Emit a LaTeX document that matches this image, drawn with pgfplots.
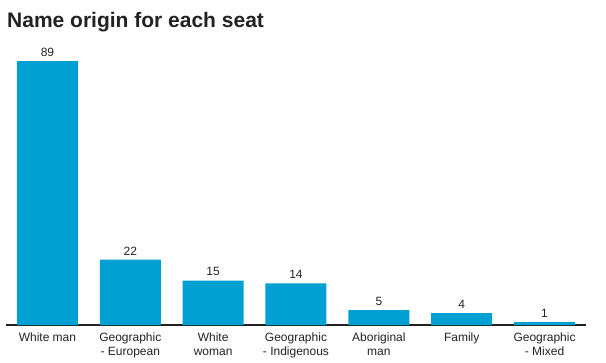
\documentclass[border=0pt]{standalone}
\usepackage{pgfplots}
\pgfplotsset{compat=1.18}
\usepackage{fontspec}
\setmainfont{Liberation Sans}
\definecolor{barblue}{HTML}{00A0D2}
\definecolor{txt}{HTML}{222222}
\begin{document}
\begin{tikzpicture}
\begin{axis}[
  scale only axis,
  width=580bp, height=280bp,
  xmin=-0.5, xmax=6.5,
  ymin=0, ymax=94.4,
  axis x line=bottom,
  axis y line=none,
  axis line style={-, line width=1.3bp, color=txt},
  xtick=data,
  xtick style={draw=none},
  xticklabels={White man, {Geographic\\- European}, {White\\woman}, {Geographic\\- Indigenous}, {Aboriginal\\man}, Family, {Geographic\\- Mixed}},
  xticklabel style={align=center, font=\fontsize{12bp}{14bp}\selectfont, text=txt, anchor=north, yshift=0bp},
  /pgf/number format/assume math mode=true,
  ybar,
  bar width=61bp,
  nodes near coords,
  every node near coord/.append style={font=\fontsize{12bp}{14bp}\selectfont, text=txt, yshift=1bp},
  clip=false,
]
\addplot[fill=barblue, draw=none] coordinates {(0,89) (1,22) (2,15) (3,14) (4,5) (5,4) (6,1)};
\end{axis}
\node[anchor=base west, font=\fontsize{21bp}{25bp}\selectfont\bfseries, text=txt, inner sep=0pt] at (1bp,297bp) {Name origin for each seat};
\useasboundingbox (-6bp,-38bp) rectangle (600bp,325bp);
\end{tikzpicture}
\end{document}
